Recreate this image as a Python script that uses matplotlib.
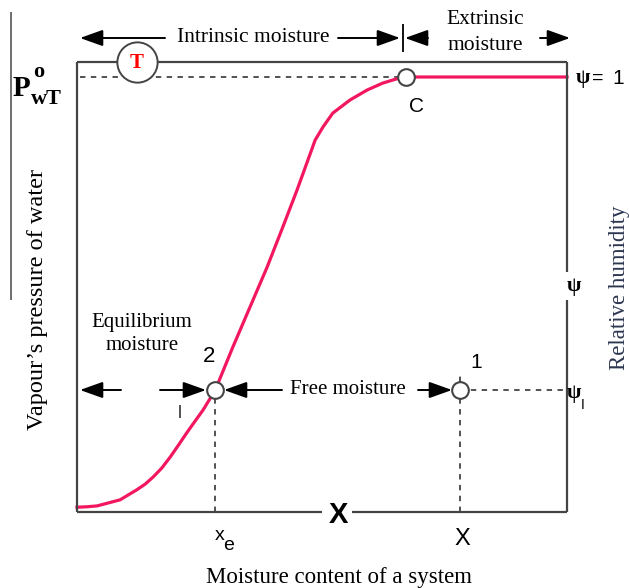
import numpy as np
import matplotlib.pyplot as plt

# sorption curve (moisture content vs relative humidity)
moisture = [0, 0.020, 0.041, 0.088, 0.122, 0.139, 0.155, 0.173, 0.190, 0.206, 0.224,
            0.241, 0.257, 0.282, 0.318, 0.353, 0.388, 0.420, 0.449, 0.469, 0.486,
            0.502, 0.522, 0.557, 0.592, 0.624, 0.659, 0.673, 1.0]
humidity = [0.011, 0.012, 0.014, 0.028, 0.051, 0.064, 0.080, 0.101, 0.126, 0.152, 0.182,
            0.209, 0.234, 0.280, 0.379, 0.471, 0.563, 0.655, 0.740, 0.802, 0.855,
            0.885, 0.917, 0.947, 0.970, 0.986, 0.998, 1.0, 1.0]
# named points: equilibrium (2), actual state (1), saturation (C)
x_e, psi_1 = 0.282, 0.280
x_1 = 0.782
x_c = 0.671

serif = 'Liberation Serif'
sans = 'Liberation Sans'
pink = '#f2175e'
gray = '#444444'

W, H = 629, 588
fig = plt.figure(figsize=(W / 100, H / 100), dpi=100)

# data axes = the box of the diagram (pixels 77..567 x 62..512)
L, R, T, B = 77, 567, 62, 512
ax = fig.add_axes([L / W, (H - B) / H, (R - L) / W, (B - T) / H])
ax.set_xlim(0, 1)
ax.set_ylim(0, (B - T) / (B - 77))
ax.axis('off')
ax.patch.set_alpha(0)

ax.plot(moisture, humidity, color=pink, lw=2.3, zorder=3, clip_on=False,
        solid_joinstyle='round')
# dashed guides
ax.plot([0.006, x_c], [1, 1], ls=(0, (3, 3)), color=gray, lw=1.3, zorder=2)
ax.plot([x_e, x_e], [0, psi_1], ls=(0, (3, 3)), color=gray, lw=1.3, zorder=2)
ax.plot([x_1, x_1], [0, 0.32], ls=(0, (3, 3)), color=gray, lw=1.3, zorder=2)
ax.plot([x_1, 1], [psi_1, psi_1], ls=(0, (3, 3)), color=gray, lw=1.3, zorder=2)
# open circles
ax.plot([x_e, x_1, x_c], [psi_1, psi_1, 1], 'o', ms=12, mfc='white', mec=gray,
        mew=1.5, zorder=5, clip_on=False)

# overlay in pixel coordinates for frame, arrows and labels
ov = fig.add_axes([0, 0, 1, 1])
ov.set_xlim(0, W)
ov.set_ylim(H, 0)
ov.axis('off')
ov.patch.set_alpha(0)

def seg(x0, y0, x1, y1, **kw):
    ov.plot([x0, x1], [y0, y1], color=kw.pop('color', gray), lw=kw.pop('lw', 1.6),
            solid_capstyle='butt', **kw)

def arrow(tail, head):
    ov.annotate('', xy=head, xytext=tail,
                arrowprops=dict(arrowstyle='-|>,head_length=1.4,head_width=0.5',
                                color='black', lw=1.4, shrinkA=0, shrinkB=0))

# frame with its gaps
seg(L, T, 117, T)
seg(157, T, R, T)
seg(L, T, L, B)
seg(L, B, 322, B)
seg(352, B, R, B)
seg(R, T, R, 272)
seg(R, 300, R, B)
seg(11, 12, 11, 300, lw=1.2, color='#555555')
seg(180, 405, 180, 418, lw=1.3, color=gray)

# T circle
ov.plot([137], [62], 'o', ms=29, mfc='white', mec=gray, mew=1.4, zorder=6)
ov.text(137, 63, 'T', color='red', fontsize=15, fontweight='bold', family=serif,
        ha='center', va='center', zorder=7)

# top row arrows
arrow((165, 38), (80, 38))
ov.text(253, 38, 'Intrinsic moisture', fontsize=15.5, family=serif, ha='center', va='center')
arrow((338, 38), (400, 38))
seg(403, 24, 403, 52, lw=1.3, color='black')
arrow((428, 38), (405, 38))
ov.text(485, 20, 'Extrinsic', fontsize=15.5, family=serif, ha='center', va='center')
ov.text(485, 45, 'moisture', fontsize=15.5, family=serif, ha='center', va='center')
arrow((540, 38), (570, 38))

# middle row arrows
arrow((121, 390), (80, 390))
arrow((160, 390), (206, 390))
arrow((282, 390), (224, 390))
ov.text(348, 390, 'Free moisture', fontsize=15, family=serif, ha='center', va='center')
arrow((418, 390), (452, 390))

ov.text(142, 322, 'Equilibrium', fontsize=15, family=serif, ha='center', va='center')
ov.text(142, 346, 'moisture', fontsize=15, family=serif, ha='center', va='center')

# point labels
ov.text(209, 357, '2', fontsize=16, family=sans, ha='center', va='center')
ov.text(476, 363, '1', fontsize=15, family=sans, ha='center', va='center')
ov.text(417, 107, 'C', fontsize=15, family=sans, ha='center', va='center')

# right side labels
ov.text(576, 78, 'ψ', fontsize=15, fontweight='bold', family=serif, ha='left', va='center')
ov.text(592, 78, '=', fontsize=14, family=sans, ha='left', va='center')
ov.text(612, 78, '1', fontsize=15, family=sans, ha='left', va='center')
ov.text(574, 286, 'ψ', fontsize=15, fontweight='bold', family=serif, ha='center', va='center')
ov.text(574, 393, 'ψ', fontsize=15, fontweight='bold', family=serif, ha='center', va='center')
ov.text(583, 405, 'I', fontsize=10, family=sans, ha='center', va='center')
ov.text(620, 288, 'Relative humidity', fontsize=16.5, family=serif, color='#2c3650',
        rotation=90, ha='center', va='center')

# left side labels
ov.text(21, 89, 'P', fontsize=21, fontweight='bold', family=serif, ha='center', va='center')
ov.text(39, 72, 'o', fontsize=16, fontweight='bold', family=serif, ha='center', va='center')
ov.text(46, 99, 'wT', fontsize=16, fontweight='bold', family=serif, ha='center', va='center')
ov.text(38, 300, 'Vapour\u2019s pressure of water', fontsize=17.5, family=serif,
        rotation=90, ha='center', va='center')

# bottom labels
ov.text(220, 536, 'x', fontsize=14, family=sans, ha='center', va='center')
ov.text(229, 545, 'e', fontsize=14, family=sans, ha='center', va='center')
ov.text(338, 515, 'X', fontsize=21, fontweight='bold', family=sans, ha='center', va='center')
ov.text(462, 539, 'X', fontsize=17, family=sans, ha='center', va='center')
ov.text(339, 577, 'Moisture content of a system', fontsize=16.5, family=serif,
        ha='center', va='center')

fig.savefig('out.png', dpi=100)
